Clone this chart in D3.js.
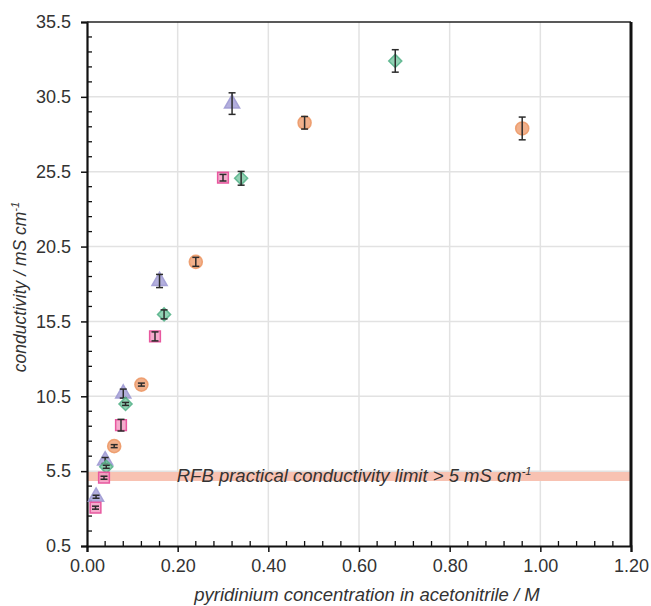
<!DOCTYPE html>
<html>
<head>
<meta charset="utf-8">
<script src="https://cdn.jsdelivr.net/npm/d3@7"></script>
<style>
  body { margin: 0; background: #fff; }
  text { font-family: "Liberation Sans", Arial, sans-serif; fill: #333; }
</style>
</head>
<body>
<div id="chart-container" style="width:651px;height:606px"></div>
<script>
const chartContainer = document.getElementById("chart-container");

// concentrations (M) and conductivities (mS/cm) per series
const circleX = [0.06, 0.12, 0.24, 0.48, 0.96];
const circleY = [7.17, 11.28, 19.48, 28.77, 28.39];
const circleErr = [0.1, 0.1, 0.3, 0.42, 0.76];

const triangleX = [0.02, 0.04, 0.08, 0.16, 0.32];
const triangleY = [3.79, 6.21, 10.68, 18.2, 30.05];
const triangleErr = [0.1, 0.2, 0.3, 0.44, 0.72];

const diamondX = [0.0425, 0.085, 0.17, 0.34, 0.68];
const diamondY = [5.79, 9.99, 15.97, 25.06, 32.9];
const diamondErr = [0.1, 0.1, 0.3, 0.46, 0.75];

const squareX = [0.01875, 0.0375, 0.075, 0.15, 0.3];
const squareY = [3.06, 5.06, 8.57, 14.5, 25.1];
const squareErr = [0.1, 0.1, 0.39, 0.3, 0.22];

const xTicks = [0, 0.2, 0.4, 0.6, 0.8, 1.0, 1.2];
const yTicks = [0.5, 5.5, 10.5, 15.5, 20.5, 25.5, 30.5, 35.5];
const limitValue = 5.15;
const limitLabel = "RFB practical conductivity limit > 5 mS cm";

const width = 651;
const height = 606;
const margin = { top: 22, right: 20, bottom: 60, left: 87 };
const graphWidth = width - margin.left - margin.right;
const graphHeight = height - margin.top - margin.bottom;

const svg = d3
  .select(chartContainer)
  .append("svg")
  .attr("width", width)
  .attr("height", height);

const graph = svg
  .append("g")
  .attr("transform", `translate(${margin.left}, ${margin.top})`);

const x = d3.scaleLinear().domain([0, 1.2]).range([0, graphWidth]);
const y = d3.scaleLinear().domain([0.5, 35.5]).range([graphHeight, 0]);

// grid
graph.append("g")
  .selectAll("line")
  .data(xTicks.slice(1, -1))
  .enter()
  .append("line")
  .attr("x1", (d) => x(d))
  .attr("x2", (d) => x(d))
  .attr("y1", 0)
  .attr("y2", graphHeight)
  .attr("stroke", "#e2e2e2")
  .attr("stroke-width", 1.5);

graph.append("g")
  .selectAll("line")
  .data(yTicks.slice(1, -1))
  .enter()
  .append("line")
  .attr("x1", 0)
  .attr("x2", graphWidth)
  .attr("y1", (d) => y(d))
  .attr("y2", (d) => y(d))
  .attr("stroke", "#e2e2e2")
  .attr("stroke-width", 1.5);

// practical limit band
graph.append("line")
  .attr("x1", 0)
  .attr("x2", graphWidth)
  .attr("y1", y(limitValue))
  .attr("y2", y(limitValue))
  .attr("stroke", "#f8c2b2")
  .attr("stroke-width", 9);

const limitText = graph.append("text")
  .attr("x", x(0.198))
  .attr("y", y(limitValue) + 6)
  .attr("font-size", 18.5)
  .attr("font-style", "italic")
  .text(limitLabel);
limitText.append("tspan")
  .attr("dy", -7)
  .attr("font-size", 11)
  .text("-1");

// minor ticks
const xMinor = d3.range(0.04, 1.2, 0.04).filter((d) => Math.abs(d / 0.2 - Math.round(d / 0.2)) > 0.01);
const yMinor = d3.range(1.5, 35.5, 1).filter((d) => (d - 0.5) % 5 !== 0);

graph.append("g")
  .selectAll("line")
  .data(xMinor)
  .enter()
  .append("line")
  .attr("x1", (d) => x(d))
  .attr("x2", (d) => x(d))
  .attr("y1", graphHeight)
  .attr("y2", graphHeight - 5)
  .attr("stroke", "#111")
  .attr("stroke-width", 1.3);

graph.append("g")
  .selectAll("line")
  .data(yMinor)
  .enter()
  .append("line")
  .attr("x1", 0)
  .attr("x2", 5)
  .attr("y1", (d) => y(d))
  .attr("y2", (d) => y(d))
  .attr("stroke", "#111")
  .attr("stroke-width", 1.3);

// axes
const xAxis = d3.axisBottom(x).tickValues(xTicks).tickFormat(d3.format(".2f")).tickSize(6).tickPadding(7);
const yAxis = d3.axisLeft(y).tickValues(yTicks).tickFormat(d3.format(".1f")).tickSize(6).tickPadding(10);

const gXAxis = graph.append("g").attr("transform", `translate(0, ${graphHeight})`).call(xAxis);
const gYAxis = graph.append("g").call(yAxis);

[gXAxis, gYAxis].forEach((g) => {
  g.select(".domain").attr("stroke", "#111").attr("stroke-width", 2.2);
  g.selectAll(".tick line").attr("stroke", "#111").attr("stroke-width", 1.5);
  g.selectAll("text").style("font-size", "18px").attr("fill", "#333").attr("font-family", "Liberation Sans, Arial, sans-serif");
});

// top and right frame
graph.append("line")
  .attr("x1", 0).attr("x2", graphWidth)
  .attr("y1", 0).attr("y2", 0)
  .attr("stroke", "#222").attr("stroke-width", 1.5);
graph.append("line")
  .attr("x1", graphWidth).attr("x2", graphWidth)
  .attr("y1", 0).attr("y2", graphHeight)
  .attr("stroke", "#111").attr("stroke-width", 3);

// series
const series = [
  { xs: triangleX, ys: triangleY, err: triangleErr, shape: d3.symbolTriangle, size: 100, rot: 0, fill: "rgba(160,155,212,0.8)", stroke: "rgba(160,155,212,0.9)" },
  { xs: diamondX, ys: diamondY, err: diamondErr, shape: d3.symbolSquare, size: 85, rot: 45, fill: "rgba(110,195,155,0.75)", stroke: "rgba(90,180,140,0.9)" },
  { xs: circleX, ys: circleY, err: circleErr, shape: d3.symbolCircle, size: 135, rot: 0, fill: "rgba(236,150,100,0.75)", stroke: "rgba(236,150,100,0.85)" },
  { xs: squareX, ys: squareY, err: squareErr, shape: d3.symbolSquare, size: 115, rot: 0, fill: "rgba(242,150,192,0.8)", stroke: "#e8589f" },
];

series.forEach((s) => {
  const pts = s.xs.map((d, i) => ({ x: d, y: s.ys[i], e: s.err[i] }));
  const g = graph.append("g");

  g.selectAll("path")
    .data(pts)
    .enter()
    .append("path")
    .attr("d", d3.symbol().type(s.shape).size(s.size))
    .attr("transform", (d) => `translate(${x(d.x)}, ${y(d.y)}) rotate(${s.rot})`)
    .attr("fill", s.fill)
    .attr("stroke", s.stroke)
    .attr("stroke-width", 1.5);

  const bars = g.selectAll("g.err")
    .data(pts)
    .enter()
    .append("g")
    .attr("class", "err")
    .attr("stroke", "#2b2b2b")
    .attr("stroke-width", 1.5);

  bars.append("line")
    .attr("x1", (d) => x(d.x)).attr("x2", (d) => x(d.x))
    .attr("y1", (d) => y(d.y + d.e)).attr("y2", (d) => y(d.y - d.e));
  bars.append("line")
    .attr("x1", (d) => x(d.x) - 3.5).attr("x2", (d) => x(d.x) + 3.5)
    .attr("y1", (d) => y(d.y + d.e)).attr("y2", (d) => y(d.y + d.e));
  bars.append("line")
    .attr("x1", (d) => x(d.x) - 3.5).attr("x2", (d) => x(d.x) + 3.5)
    .attr("y1", (d) => y(d.y - d.e)).attr("y2", (d) => y(d.y - d.e));
});

// axis titles
svg.append("text")
  .attr("x", 367)
  .attr("y", 601)
  .attr("text-anchor", "middle")
  .attr("font-size", 18.5)
  .attr("font-style", "italic")
  .text("pyridinium concentration in acetonitrile / M");

const yTitle = svg.append("text")
  .attr("transform", `translate(26, ${margin.top + graphHeight / 2 + 3}) rotate(-90)`)
  .attr("text-anchor", "middle")
  .attr("font-size", 17.5)
  .attr("font-style", "italic")
  .text("conductivity / mS cm");
yTitle.append("tspan")
  .attr("dy", -7)
  .attr("font-size", 11)
  .text("-1");
</script>
</body>
</html>
